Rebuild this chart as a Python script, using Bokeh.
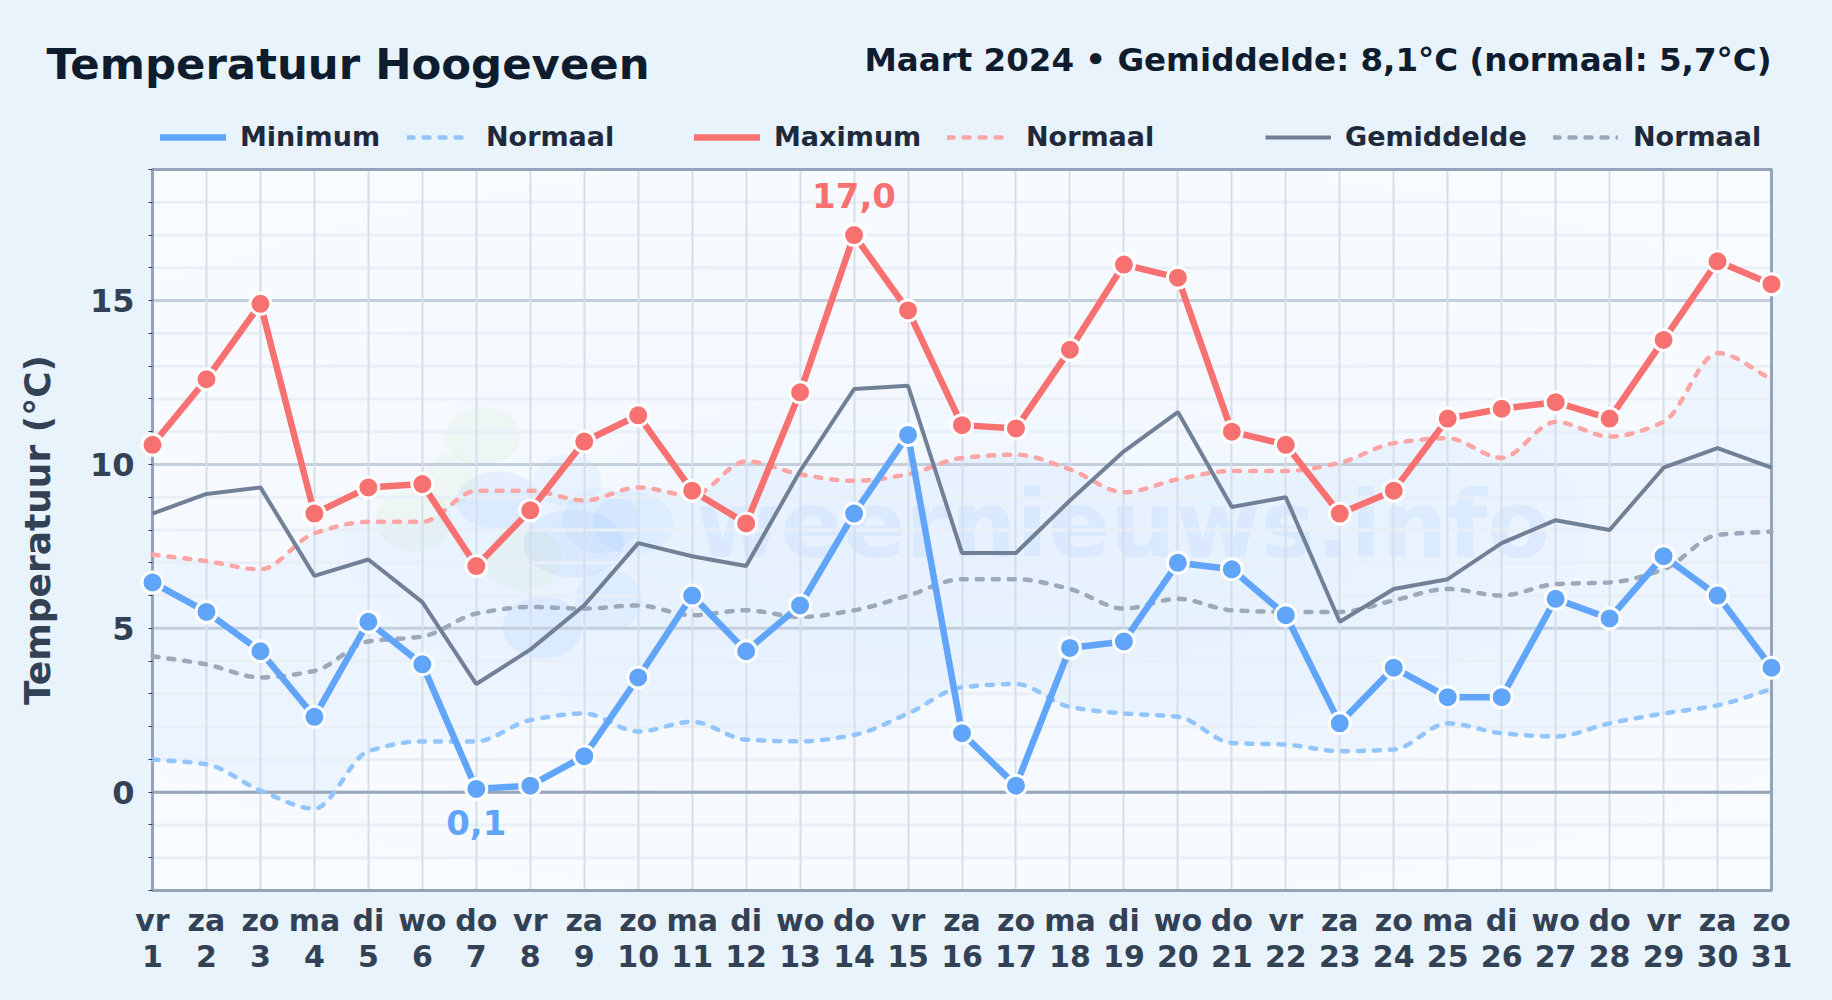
import numpy as np
from bokeh.plotting import figure
from bokeh.layouts import column
from bokeh.embed import file_html
from bokeh.resources import INLINE
from bokeh.models import Range1d, FixedTicker, Label, Legend, LegendItem, LinearAxis

weekdays = "vr za zo ma di wo do vr za zo ma di wo do vr za zo ma di wo do vr za zo ma di wo do vr za zo".split()
days = list(range(1, 32))
t_min = [6.4,5.5,4.3,2.3,5.2,3.9,0.1,0.2,1.1,3.5,6.0,4.3,5.7,8.5,10.9,1.8,0.2,4.4,4.6,7.0,6.8,5.4,2.1,3.8,2.9,2.9,5.9,5.3,7.2,6.0,3.8]
t_max = [10.6,12.6,14.9,8.5,9.3,9.4,6.9,8.6,10.7,11.5,9.2,8.2,12.2,17.0,14.7,11.2,11.1,13.5,16.1,15.7,11.0,10.6,8.5,9.2,11.4,11.7,11.9,11.4,13.8,16.2,15.5]
t_avg = [8.5,9.1,9.3,6.6,7.1,5.8,3.3,4.35,5.7,7.6,7.2,6.9,9.8,12.3,12.4,7.3,7.3,8.9,10.4,11.6,8.7,9.0,5.2,6.2,6.5,7.6,8.3,8.0,9.9,10.5,9.9]
norm_min = [1.0,0.85,0.05,-0.5,1.25,1.55,1.55,2.2,2.4,1.85,2.15,1.6,1.55,1.75,2.4,3.2,3.3,2.6,2.4,2.3,1.5,1.45,1.25,1.3,2.1,1.8,1.7,2.1,2.4,2.65,3.15]
norm_max = [7.25,7.05,6.8,7.9,8.25,8.25,9.2,9.2,8.9,9.3,9.05,10.1,9.7,9.5,9.7,10.2,10.3,9.85,9.15,9.55,9.8,9.8,10.05,10.65,10.8,10.2,11.3,10.85,11.3,13.4,12.6]
norm_avg = [4.15,3.9,3.5,3.7,4.6,4.75,5.45,5.65,5.6,5.7,5.4,5.55,5.35,5.55,6.0,6.5,6.5,6.2,5.6,5.9,5.55,5.5,5.5,5.85,6.2,6.0,6.35,6.4,6.8,7.85,7.95]

BG = "#e8f3fc"
FONT = "DejaVu Sans"
HEAD = 160
L, R, T, B = 152, 1771, 169, 890   # plot edges on the page
YMIN, YMAX = -3, 19
PAD = 14
def X(px): return 1 + (px - L) * 30 / (R - L)
def Y(py): return YMAX - (py - T) * (YMAX - YMIN) / (B - T)

def smooth(xs, ys, n=14):
    """Monotone cubic drawing path through the daily values."""
    xs, ys = np.asarray(xs, float), np.asarray(ys, float)
    d = np.diff(ys) / np.diff(xs)
    m = np.zeros_like(ys)
    m[0], m[-1] = d[0], d[-1]
    for i in range(1, len(ys) - 1):
        m[i] = 0 if d[i-1] * d[i] <= 0 else 2 * d[i-1] * d[i] / (d[i-1] + d[i])
    ox, oy = [], []
    for i in range(len(ys) - 1):
        t = np.linspace(0, 1, n, endpoint=False)
        h = xs[i+1] - xs[i]
        oy.extend((2*t**3-3*t**2+1)*ys[i] + (t**3-2*t**2+t)*h*m[i] + (-2*t**3+3*t**2)*ys[i+1] + (t**3-t**2)*h*m[i+1])
        ox.extend(xs[i] + t*h)
    ox.append(xs[-1]); oy.append(ys[-1])
    return np.array(ox), np.array(oy)

# ---------- main chart ----------
p = figure(width=1832, height=1000-HEAD, output_backend="svg", toolbar_location=None,
           x_range=Range1d(X(L-PAD), X(R+PAD)), y_range=Range1d(Y(B+2), Y(T-2)),
           min_border_left=L-PAD, min_border_right=1832-(R+PAD),
           min_border_top=T-2-HEAD, min_border_bottom=1000-(B+2),
           background_fill_color=BG, border_fill_color=BG, outline_line_color=None)
p.frame_align = False

p.xaxis.ticker = FixedTicker(ticks=days)
p.xaxis.bounds = (1, 31)
p.xaxis.major_label_overrides = {d: f"{w}\n{d}" for d, w in zip(days, weekdays)}
p.xaxis.major_label_text_font = FONT
p.xaxis.major_label_text_font_style = "bold"
p.xaxis.major_label_text_font_size = "30px"
p.xaxis.major_label_text_line_height = 1.05
p.xaxis.major_label_text_color = "#334155"
p.xaxis.major_label_standoff = 4
p.xaxis.major_tick_line_color = None
p.xaxis.minor_tick_line_color = None
p.xaxis.axis_line_color = None

major_y = [0, 5, 10, 15]
minor_y = [v for v in range(YMIN, YMAX + 1) if v % 5]
p.yaxis.ticker = FixedTicker(ticks=major_y)
p.yaxis.major_label_text_font = FONT
p.yaxis.major_label_text_font_style = "bold"
p.yaxis.major_label_text_font_size = "32px"
p.yaxis.major_label_text_color = "#334155"
p.yaxis.major_label_standoff = -2
p.yaxis.major_tick_line_color = None
p.yaxis.minor_tick_line_color = None
p.yaxis.axis_line_color = None
p.yaxis.axis_label = "Temperatuur (°C)"
p.yaxis.axis_label_text_font = FONT
p.yaxis.axis_label_text_font_style = "bold"
p.yaxis.axis_label_text_font_size = "36px"
p.yaxis.axis_label_text_color = "#334155"
p.yaxis.axis_label_standoff = 29

# tick marks only, on the plot's left edge
marks = LinearAxis(fixed_location=1, bounds=(YMIN, YMAX),
                   ticker=FixedTicker(ticks=[], minor_ticks=major_y + minor_y),
                   axis_line_color=None, major_tick_line_color=None,
                   minor_tick_line_color="#334155", minor_tick_out=4, minor_tick_in=0)
p.add_layout(marks, "left")

p.xgrid.ticker = FixedTicker(ticks=days)
p.xgrid.grid_line_color = "#d6dee9"
p.xgrid.grid_line_width = 2
p.ygrid.visible = False

# plot background with a faint central glow
gx = np.linspace(-1, 1, 410)[None, :]
gy = np.linspace(-1, 1, 180)[:, None]
glow = 0.045 * np.exp(-(gx**2 * 1.4 + gy**2 * 2.2))
img = np.zeros((180, 410), dtype=np.uint32)
view = img.view(dtype=np.uint8).reshape((180, 410, 4))
view[..., 0], view[..., 1], view[..., 2] = 96, 165, 250
view[..., 3] = (glow * 255).clip(0, 255).astype(np.uint8)
p.quad(left=[1], right=[31], bottom=[YMIN], top=[YMAX], fill_color="#f8fbff", line_color=None, level="image")
p.image_rgba(image=[img], x=1, y=YMIN, dw=30, dh=YMAX-YMIN, level="image")

# logo blobs and watermark
green = [(482,436,76,58),(413,520,76,62),(523,558,76,66),(450,480,50,54)]
blue1 = [(498,500,84,58),(573,543,100,68),(542,627,80,62)]
blue2 = [(567,480,68,52),(633,523,80,62),(608,600,68,62),(600,520,76,66)]
def blobs(items, color, alpha):
    p.ellipse([X(i[0]) for i in items], [Y(i[1]) for i in items],
              width=[i[2] for i in items], height=[i[3] for i in items],
              width_units="screen", height_units="screen",
              fill_color=color, fill_alpha=alpha, line_color=None, level="image")
blobs(green, "#86c232", 0.055)
blobs(blue2, "#60a5fa", 0.07)
blobs(blue1, "#3b82f6", 0.08)

sx, smin = smooth(days, norm_min)
_, smax = smooth(days, norm_max)
_, savg = smooth(days, norm_avg)
p.varea(sx, smin, smax, fill_color="#60a5fa", fill_alpha=0.07, level="image")

# horizontal grid stays between the first and last day
p.segment(x0=1, x1=31, y0=minor_y, y1=minor_y, line_color="#e9eff6", line_width=3, level="underlay")
p.segment(x0=1, x1=31, y0=major_y, y1=major_y, line_color="#c3cfdd", line_width=3, level="underlay")
p.segment(x0=[1], x1=[31], y0=[0], y1=[0], line_color="#9aa8bb", line_width=3)
p.quad(left=[1], right=[31], bottom=[YMIN], top=[YMAX], fill_color=None,
       line_color="#94a3b8", line_width=3)
p.add_layout(Label(x=X(695), y=Y(525), text="weernieuws.info", text_font=FONT, text_font_style="bold",
                   text_font_size="92px", text_color="#3b82f6", text_alpha=0.07,
                   text_baseline="middle", level="image"))

dash = dict(line_dash="6 10", line_width=4.5, line_cap="round")
r_nmin = p.line(sx, smin, line_color="#93c5fd", **dash)
r_nmax = p.line(sx, smax, line_color="#fca5a5", **dash)
r_navg = p.line(sx, savg, line_color="#9ca9ba", **dash)
r_avg = p.line(days, t_avg, line_color="#718096", line_width=4)
r_max = p.line(days, t_max, line_color="#f87171", line_width=6.5, line_join="round", line_cap="round")
r_min = p.line(days, t_min, line_color="#60a5fa", line_width=6.5, line_join="round", line_cap="round")
p.scatter(days, t_max, size=21, fill_color="#f87171", line_color="white", line_width=3)
p.scatter(days, t_min, size=21, fill_color="#60a5fa", line_color="white", line_width=3)

imax = int(np.argmax(t_max)); imin = int(np.argmin(t_min))
p.add_layout(Label(x=days[imax], y=t_max[imax], y_offset=40, text="17,0", text_font=FONT,
                   text_font_style="bold", text_font_size="34px", text_color="#f87171",
                   text_align="center", text_baseline="middle"))
p.add_layout(Label(x=days[imin], y=t_min[imin], y_offset=-34, text="0,1", text_font=FONT,
                   text_font_style="bold", text_font_size="34px", text_color="#60a5fa",
                   text_align="center", text_baseline="middle"))

# ---------- header: title, summary, legend ----------
h = figure(width=1832, height=HEAD, output_backend="svg", toolbar_location=None,
           x_range=Range1d(0, 1832), y_range=Range1d(HEAD, 0),
           min_border=0, background_fill_color=BG, border_fill_color=BG, outline_line_color=None)
h.frame_align = False
h.axis.visible = False
h.grid.visible = False
h.add_layout(Label(x=46, y=63, text="Temperatuur Hoogeveen", text_font=FONT, text_font_style="bold",
                   text_font_size="43.4px", text_color="#0f1c2e", text_baseline="middle"))
h.add_layout(Label(x=1771, y=59, text="Maart 2024 • Gemiddelde: 8,1°C (normaal: 5,7°C)",
                   text_font=FONT, text_font_style="bold", text_font_size="32.5px",
                   text_color="#0f1c2e", text_align="right", text_baseline="middle"))
keys = [("Minimum", dict(line_color="#60a5fa", line_width=6.5, line_cap="round"), 160, 66, 14),
        ("Normaal", dict(line_color="#93c5fd", **dash), 407, 58, 21),
        ("Maximum", dict(line_color="#f87171", line_width=6.5, line_cap="round"), 694, 66, 14),
        ("Normaal", dict(line_color="#fca5a5", **dash), 947, 58, 21),
        ("Gemiddelde", dict(line_color="#718096", line_width=4), 1265, 66, 14),
        ("Normaal", dict(line_color="#9ca9ba", **dash), 1553, 65, 15)]
for label, style, px, gw, gap in keys:
    key = h.line([-100, -99], [-100, -99], **style)
    h.add_layout(Legend(items=[LegendItem(label=label, renderers=[key])],
                        location=(px, HEAD - 137 - 15), orientation="horizontal",
                        background_fill_alpha=0, border_line_color=None, padding=0, margin=0,
                        glyph_width=gw, glyph_height=30, label_height=30, label_standoff=gap,
                        label_text_font=FONT, label_text_font_style="bold",
                        label_text_font_size="27px", label_text_color="#1e293b"), "center")

page = column(h, p, spacing=0)
html = file_html(page, INLINE).replace("</head>", f"<style>html,body{{background:{BG};}}</style></head>", 1)
open("out.html", "w").write(html)
